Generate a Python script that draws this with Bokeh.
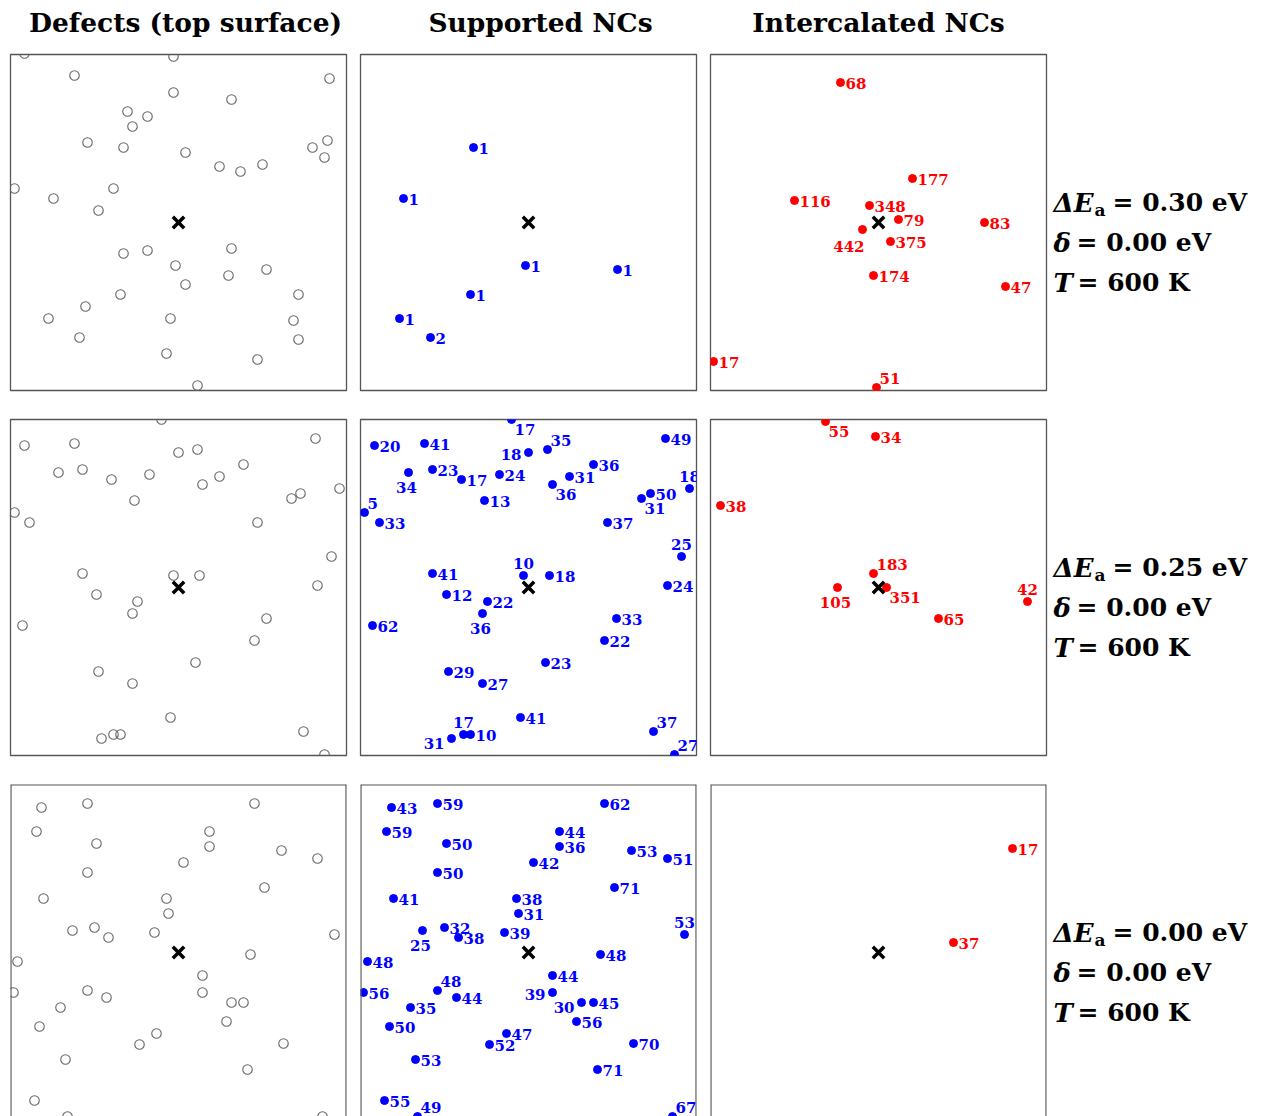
from bokeh.plotting import figure
from bokeh.layouts import column, row
from bokeh.models import Range1d, ColumnDataSource, Span
from bokeh.embed import file_html
from bokeh.resources import INLINE
from bokeh.core.properties import value

# ---------------- data (positions relative to the centre site, in px-units) -------------
col_titles = ["Defects (top surface)", "Supported NCs", "Intercalated NCs"]
dEa = ["0.30", "0.25", "0.00"]
delta = ["0.00", "0.00", "0.00"]
temp = ["600", "600", "600"]

center_x = [0]
center_y = [0]

# row 1 : defects
def1_x = [-154, -5, -104, 151, -5, 53, -51, -31, -46, -91, -55, 7, 134, 149, 146, 41, 62, 84,
          -164, -125, -65, -80, -55, -31, 53, -3, 50, 88, 7, -58, 120, -93, -130, -8, 115,
          -99, 120, -12, 79, 19]
def1_y = [169, 166, 147, 144, 130, 123, 111, 106, 96, 80, 75, 70, 75, 82, 65, 56, 51, 58,
          34, 24, 34, 12, -31, -28, -26, -43, -53, -47, -62, -72, -72, -84, -96, -96, -98,
          -115, -117, -131, -137, -163]
# row 1 : supported NCs
sup1_x = [-55, -125, -3, 89, -58, -129, -98]
sup1_y = [75, 24, -43, -47, -72, -96, -115]
sup1_n = ["1", "1", "1", "1", "1", "1", "2"]
# row 1 : intercalated NCs
int1_x = [-38, 34, -84, -9, 20, 106, -16, 12, -5, 127, -165, -2]
int1_y = [140, 44, 22, 17, 3, 0, -7, -19, -53, -64, -139, -165]
int1_n = ["68", "177", "116", "348", "79", "83", "442", "375", "174", "47", "17", "51"]

# row 2 : defects (supported NCs sit on the same sites)
def2_x = [-17, -154, -104, 0, 19, 137, -120, -96, -67, -29, 24, 41, 65, -44, 113, 122, 161,
          -164, -149, 79, 153, -96, -5, 21, 139, -82, -41, -46, -156, 88, 76, 17, -80, -46,
          -8, 125, -77, -65, -58, 146]
def2_y = [168, 142, 144, 135, 138, 149, 115, 118, 108, 113, 103, 111, 123, 87, 89, 94, 99,
          75, 65, 65, 31, 14, 12, 12, 2, -7, -14, -26, -38, -31, -53, -75, -84, -96, -130,
          -144, -151, -147, -147, -167]
sup2_n = ["17", "20", "41", "18", "35", "49", "34", "23", "17", "24", "36", "31", "36", "13",
          "31", "50", "18", "5", "33", "37", "25", "41", "10", "18", "24", "12", "22", "36",
          "62", "33", "22", "23", "29", "27", "41", "37", "31", "17", "10", "27"]
int2_x = [-53, -3, -158, -5, -41, 8, 60, 149]
int2_y = [166, 151, 82, 14, 0, 0, -31, -14]
int2_n = ["55", "34", "38", "183", "105", "351", "65", "42"]

# row 3 : defects (supported NCs sit on the same sites)
def3_x = [-137, -91, 76, -142, 31, -82, 31, 103, 139, 5, -91, 86, -135, -12, -10, -106, -84,
          -70, -24, 156, -161, 72, 24, -165, -91, -72, 24, -118, 53, 65, -139, 48, -22, -39,
          105, -113, 69, -144, -111, 144]
def3_y = [145, 149, 149, 121, 121, 109, 106, 102, 94, 90, 80, 65, 54, 54, 39, 22, 25, 15, 20,
          18, -9, -2, -23, -40, -38, -45, -40, -55, -50, -50, -74, -69, -81, -92, -91, -107,
          -117, -148, -164, -164]
sup3_n = ["43", "59", "62", "59", "44", "50", "36", "53", "51", "42", "50", "71", "41", "38",
          "31", "25", "32", "38", "39", "53", "48", "48", "44", "56", "48", "44", "39", "35",
          "30", "45", "50", "56", "47", "52", "70", "53", "71", "55", "49", "67"]
int3_x = [134, 75]
int3_y = [104, 10]
int3_n = ["17", "37"]

# ---------------- styling / layout ----------------
HALF = 168
FONT = value("DejaVu Serif")
BLUE = "#0000ff"
RED = "#ff0000"
FRAME = "#555555"

PLACE_STYLE = {           # align, dx, dy (screen px)
    "r": ("left", 5, 1),
    "l": ("right", -7, 2),
    "a": ("center", 0, -12),
    "b": ("center", -2, 15),
    "ar": ("left", 3, -9),
    "br": ("left", 3, 10),
    "lb": ("right", -7, 5),
    "bl": ("right", 2, 17),
}
INT1_PLACE = {6: "bl", 11: "ar"}
INT2_PLACE = {0: "br", 3: "ar", 4: "b", 5: "br", 7: "a"}
SUP2_PLACE = {0: "br", 3: "l", 4: "ar", 6: "b", 10: "br", 14: "br", 16: "a", 17: "ar",
              20: "a", 22: "a", 27: "b", 35: "ar", 36: "lb", 37: "a", 39: "ar"}
SUP3_PLACE = {15: "b", 19: "a", 24: "ar", 26: "l", 28: "lb", 38: "ar", 39: "ar"}


def base_fig(width, height, lb, rb, tb, bb, xr, yr):
    p = figure(width=width, height=height, title=None, x_range=xr, y_range=yr,
               output_backend="svg", toolbar_location=None,
               x_axis_location=None, y_axis_location=None,
               min_border_left=lb, min_border_right=rb,
               min_border_top=tb, min_border_bottom=bb,
               background_fill_color="white", border_fill_color="white")
    p.grid.visible = False
    p.outline_line_color = None
    return p


def panel(width, height, lb, rb, tb, bb, y_lo, full_outline=True):
    p = base_fig(width, height, lb, rb, tb, bb, Range1d(-HALF, HALF), Range1d(y_lo, HALF))
    if full_outline:
        p.outline_line_color = FRAME
        p.outline_line_width = 1.3
    else:
        for loc in (-HALF, HALF):
            p.add_layout(Span(location=loc, dimension="height", line_color=FRAME, line_width=2.2))
        p.add_layout(Span(location=HALF, dimension="width", line_color=FRAME, line_width=2.2))
    return p


def add_center(p):
    p.scatter(center_x, center_y, marker="x", size=16, line_width=3.5, line_color="black")


def add_defects(p, xs, ys):
    p.scatter(xs, ys, marker="circle", size=9.5, fill_color=None,
              line_color="#666666", line_width=1.1)


def add_nc(p, xs, ys, labels, color, place):
    aligns, dxs, dys = [], [], []
    for i in range(len(xs)):
        a, dx, dy = PLACE_STYLE[place.get(i, "r")]
        aligns.append(a); dxs.append(dx); dys.append(dy)
    src = ColumnDataSource(dict(x=xs, y=ys, t=labels, al=aligns, dx=dxs, dy=dys))
    p.scatter("x", "y", source=src, marker="circle", size=8,
              fill_color=color, line_color=color)
    p.text("x", "y", text="t", source=src, text_align="al", x_offset="dx", y_offset="dy",
           text_baseline="middle", text_color=color, text_font=FONT,
           text_font_style="bold", text_font_size="15px")


def label_fig(height, tb, bb, y_lo, i):
    p = base_fig(206, height, 0, 0, tb, bb, Range1d(0, 206), Range1d(y_lo, HALF))
    common = dict(text_baseline="middle", text_color="black", text_font=FONT,
                  text_font_style="bold")
    ital = {**common, "text_font_style": "bold italic"}
    # line 1 : ΔE_a
    p.text([5], [20], text=["ΔE"], text_font_size="26px", **ital)
    p.text([46], [20], text=["a"], text_font_size="17px", y_offset=[7], **common)
    p.text([64], [20], text=["= " + dEa[i] + " eV"], text_font_size="25px", **common)
    # line 2 : δ
    p.text([5], [-20], text=["δ"], text_font_size="26px", **ital)
    p.text([28], [-20], text=["= " + delta[i] + " eV"], text_font_size="25px", **common)
    # line 3 : T
    p.text([5], [-60], text=["T"], text_font_size="26px", **ital)
    p.text([29], [-60], text=["= " + temp[i] + " K"], text_font_size="25px", **common)
    return p


# header with column titles
header = base_fig(1254, 53, 0, 0, 0, 0, Range1d(0, 1254), Range1d(0, 53))
header.text([185, 540, 878], [31, 31, 31], text=col_titles, text_align="center",
            text_baseline="middle", text_font=FONT, text_font_style="bold",
            text_font_size="26.5px", text_color="black")

rows = []
defects = [(def1_x, def1_y), (def2_x, def2_y), (def3_x, def3_y)]
supported = [(sup1_x, sup1_y, sup1_n, {}), (def2_x, def2_y, sup2_n, SUP2_PLACE),
             (def3_x, def3_y, sup3_n, SUP3_PLACE)]
intercal = [(int1_x, int1_y, int1_n, INT1_PLACE), (int2_x, int2_y, int2_n, INT2_PLACE),
            (int3_x, int3_y, int3_n, {})]

for i in range(3):
    last = (i == 2)
    h = 333 if last else 365
    bb = 0 if last else 28
    y_lo = HALF - 332 if last else -HALF
    p1 = panel(358, h, 10, 12, 1, bb, y_lo, not last)
    p2 = panel(350, h, 2, 12, 1, bb, y_lo, not last)
    p3 = panel(340, h, 2, 2, 1, bb, y_lo, not last)
    add_defects(p1, *defects[i])
    add_center(p1)
    sx, sy, sn, spl = supported[i]
    add_nc(p2, sx, sy, sn, BLUE, spl)
    add_center(p2)
    ix, iy, inn, ipl = intercal[i]
    add_nc(p3, ix, iy, inn, RED, ipl)
    add_center(p3)
    rows.append(row(p1, p2, p3, label_fig(h, 1, bb, y_lo, i), spacing=0))

layout = column(header, *rows, spacing=0)
open("out.html", "w").write(file_html(layout, INLINE))
